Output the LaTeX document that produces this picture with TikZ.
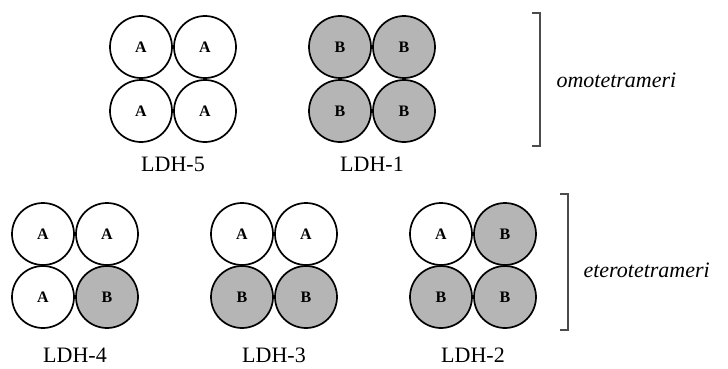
\documentclass[tikz,border=0pt]{standalone}
\usepackage{fontspec}
\setmainfont{Liberation Serif}
\begin{document}
\begin{tikzpicture}[x=1pt,y=-1pt,
  sub/.style={circle,draw=black,line width=1.7pt,minimum size=62pt,inner sep=0pt,
    font=\fontsize{16}{16}\selectfont\bfseries},
  subA/.style={sub,fill=white},
  subB/.style={sub,fill=black!29},
  lbl/.style={anchor=base,font=\fontsize{22}{22}\selectfont},
  grp/.style={anchor=west,font=\fontsize{22}{22}\selectfont\itshape},
  brk/.style={draw=black!70,line width=1.2pt}]
\useasboundingbox (0,0) rectangle (728,369);

% homotetramers
\node[subA] (a1) at (141,47) {A};
\node[subA] (a2) at (205,47) {A};
\node[subA] (a3) at (141,111) {A};
\node[subA] (a4) at (205,111) {A};
\node[lbl] (l5) at (173,171) {LDH-5};

\node[subB] (b1) at (340,47) {B};
\node[subB] (b2) at (404,47) {B};
\node[subB] (b3) at (340,111) {B};
\node[subB] (b4) at (404,111) {B};
\node[lbl] (l1) at (372,171) {LDH-1};

% heterotetramers
\node[subA] (c1) at (43,234) {A};
\node[subA] (c2) at (107,234) {A};
\node[subA] (c3) at (43,297) {A};
\node[subB] (c4) at (107,297) {B};
\node[lbl] (l4) at (75,362) {LDH-4};

\node[subA] (d1) at (242,234) {A};
\node[subA] (d2) at (306,234) {A};
\node[subB] (d3) at (242,297) {B};
\node[subB] (d4) at (306,297) {B};
\node[lbl] (l3) at (274,362) {LDH-3};

\node[subA] (e1) at (441,234) {A};
\node[subB] (e2) at (505,234) {B};
\node[subB] (e3) at (441,297) {B};
\node[subB] (e4) at (505,297) {B};
\node[lbl] (l2) at (473,362) {LDH-2};

% brackets and group names
\coordinate (t1) at (540,13);
\coordinate (t2) at (540,146);
\draw[brk] ([xshift=-8pt]t1) -- (t1) -- (t2) -- ([xshift=-8pt]t2);
\node[grp] (g1) at (553,80) {omotetrameri};

\coordinate (u1) at (568,194);
\coordinate (u2) at (568,330);
\draw[brk] ([xshift=-8pt]u1) -- (u1) -- (u2) -- ([xshift=-8pt]u2);
\node[grp] (g2) at (580,270) {eterotetrameri};
\end{tikzpicture}
\end{document}
